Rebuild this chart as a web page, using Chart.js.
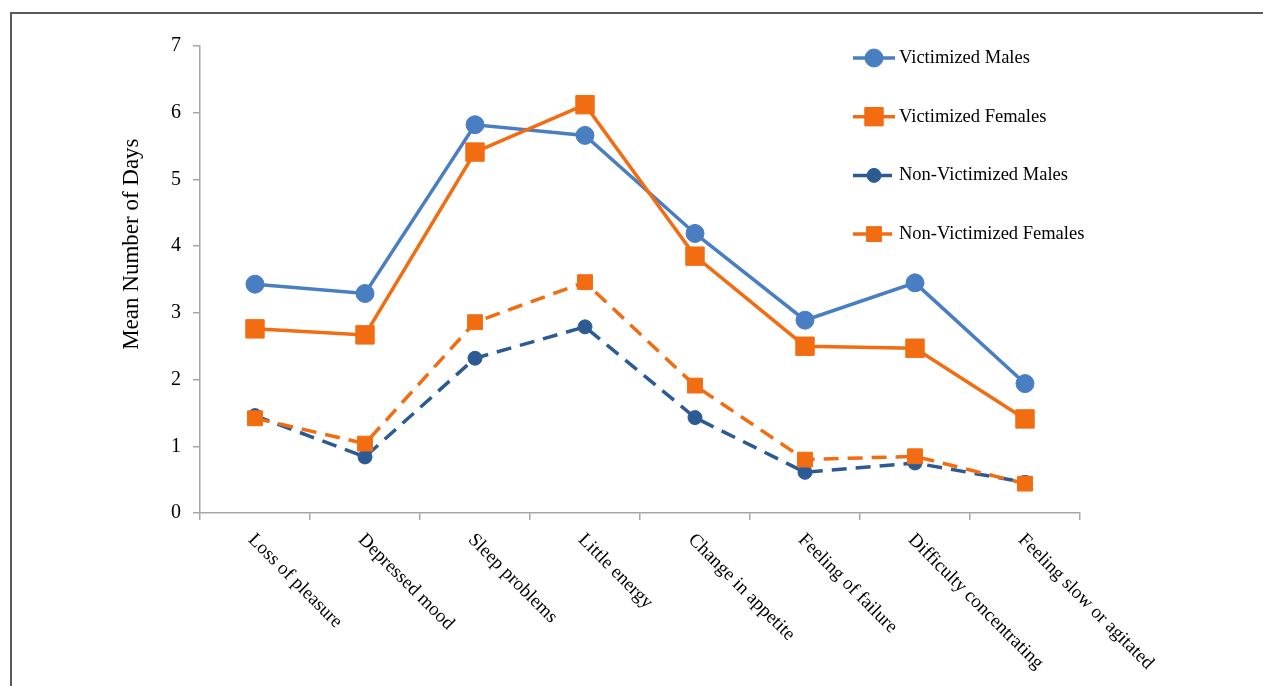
<!DOCTYPE html>
<html>
<head>
<meta charset="utf-8">
<script src="https://cdn.jsdelivr.net/npm/chart.js"></script>
<style>
  body { margin: 0; background: #fff; }
  .moldura { position: absolute; left: 10px; top: 12px; right: 0; bottom: 0; border-top: 2px solid #5b5b5b; border-left: 2px solid #5b5b5b; }
  canvas { position: absolute; left: 0; top: 0; }
</style>
</head>
<body>
<div class="moldura"></div>
<canvas id="grafico" width="1263" height="686"></canvas>
<script>
const categorias = ['Loss of pleasure', 'Depressed mood', 'Sleep problems', 'Little energy',
  'Change in appetite', 'Feeling of failure', 'Difficulty concentrating', 'Feeling slow or agitated'];

const victimizedMales = [3.43, 3.29, 5.82, 5.66, 4.19, 2.89, 3.45, 1.94];
const victimizedFemales = [2.76, 2.67, 5.41, 6.12, 3.85, 2.50, 2.47, 1.41];
const nonVictimizedMales = [1.46, 0.84, 2.32, 2.79, 1.43, 0.61, 0.75, 0.46];
const nonVictimizedFemales = [1.42, 1.04, 2.86, 3.46, 1.91, 0.80, 0.85, 0.44];

const tituloY = 'Mean Number of Days';
const fonte = 'Liberation Serif';

const azul = '#4a7ec2';
const azulEscuro = '#2c5b94';
const laranja = '#f26c12';

// legenda desenhada dentro da area do grafico, como no original
const legendaInterna = {
  id: 'legendaInterna',
  afterDraw(chart, args, opts) {
    const ctx = chart.ctx;
    ctx.save();
    ctx.font = opts.font;
    ctx.textBaseline = 'middle';
    chart.data.datasets.forEach((ds, i) => {
      const y = opts.y + i * opts.gap;
      ctx.strokeStyle = ds.borderColor;
      ctx.lineWidth = ds.borderWidth;
      ctx.setLineDash(ds.borderDash || []);
      ctx.beginPath();
      ctx.moveTo(opts.x, y);
      ctx.lineTo(opts.x + opts.len, y);
      ctx.stroke();
      ctx.setLineDash([]);

      const cx = opts.x + opts.len / 2;
      const r = ds.pointRadius;
      ctx.fillStyle = ds.pointBackgroundColor;
      ctx.strokeStyle = ds.pointBorderColor;
      ctx.lineWidth = 1;
      ctx.beginPath();
      if (ds.pointStyle === 'rect') {
        const s = r * Math.SQRT1_2;
        ctx.rect(cx - s, y - s, 2 * s, 2 * s);
      } else {
        ctx.arc(cx, y, r, 0, Math.PI * 2);
      }
      ctx.fill();
      ctx.stroke();

      ctx.fillStyle = '#000';
      ctx.fillText(ds.label, opts.x + opts.len + 4, y);
    });
    ctx.restore();
  }
};

// rotulos do eixo x inclinados para baixo e titulo do eixo y
const rotulos = {
  id: 'rotulos',
  afterDraw(chart) {
    const ctx = chart.ctx;
    const eixoX = chart.scales.x;
    const eixoY = chart.scales.y;
    ctx.save();
    ctx.fillStyle = '#000';
    ctx.font = '19px "' + fonte + '"';
    ctx.textAlign = 'left';
    ctx.textBaseline = 'middle';
    categorias.forEach((nome, i) => {
      const px = eixoX.getPixelForTick(i);
      ctx.save();
      ctx.translate(px - 4, eixoX.top + 24);
      ctx.rotate(Math.PI / 4);
      ctx.fillText(nome, 0, 0);
      ctx.restore();
    });

    ctx.font = '23px "' + fonte + '"';
    ctx.textAlign = 'center';
    ctx.translate(132, eixoY.getPixelForValue(4) - 2);
    ctx.rotate(-Math.PI / 2);
    ctx.fillText(tituloY, 0, 0);
    ctx.restore();
  }
};

function serie(label, dados, cor, estilo, raio, tracejado) {
  return {
    label: label,
    data: dados,
    borderColor: cor,
    backgroundColor: cor,
    borderWidth: 3.5,
    borderDash: tracejado,
    pointStyle: estilo,
    pointRadius: raio,
    pointBackgroundColor: cor,
    pointBorderColor: cor,
    pointBorderWidth: 1,
    tension: 0
  };
}

const ds1 = serie('Victimized Males', victimizedMales, azul, 'circle', 9, []);
const ds2 = serie('Victimized Females', victimizedFemales, laranja, 'rect', 13, []);
const ds3 = serie('Non-Victimized Males', nonVictimizedMales, azulEscuro, 'circle', 7, [15, 9]);
const ds4 = serie('Non-Victimized Females', nonVictimizedFemales, laranja, 'rect', 10.5, [15, 9]);
ds1.order = 3;
ds2.order = 2;
ds3.order = 1;
ds4.order = 0;

const grafico = new Chart(document.getElementById('grafico'), {
  type: 'line',
  data: {
    labels: categorias,
    datasets: [ds1, ds2, ds3, ds4]
  },
  options: {
    responsive: false,
    animation: false,
    layout: { padding: { left: 0, top: 46, right: 183, bottom: 166 } },
    plugins: {
      legend: { display: false },
      tooltip: { enabled: false },
      legendaInterna: { x: 853, y: 58, gap: 58.7, len: 42, font: '18.5px "' + fonte + '"' }
    },
    scales: {
      x: {
        offset: true,
        grid: { display: true, offset: true, drawOnChartArea: false, tickLength: 7, color: '#a6a6a6', lineWidth: 1.5 },
        border: { display: true, color: '#a6a6a6', width: 1.5 },
        ticks: { display: false }
      },
      y: {
        min: 0,
        max: 7,
        afterFit(scale) { scale.width = 200; },
        grid: { display: true, drawOnChartArea: false, tickLength: 7, color: '#a6a6a6', lineWidth: 1.5 },
        border: { display: true, color: '#a6a6a6', width: 1.5 },
        ticks: { stepSize: 1, padding: 12, color: '#000', font: { family: fonte, size: 20 } }
      }
    }
  },
  plugins: [legendaInterna, rotulos]
});
</script>
</body>
</html>
